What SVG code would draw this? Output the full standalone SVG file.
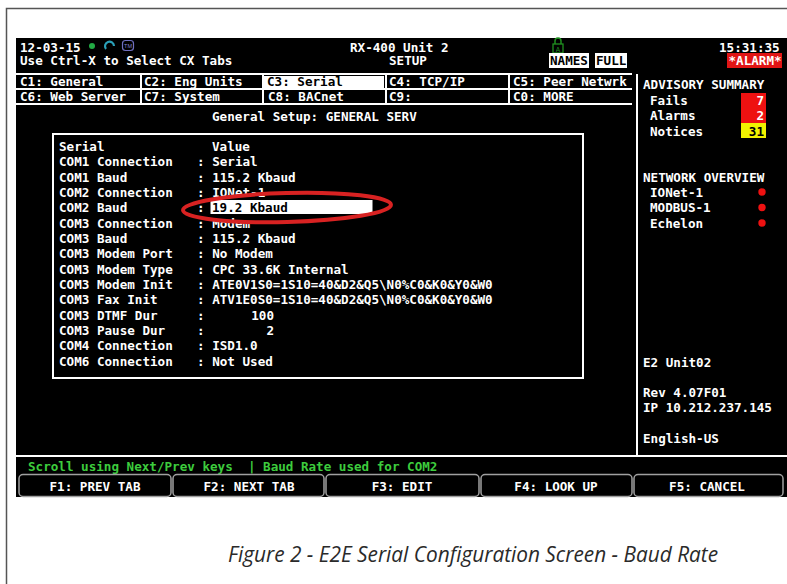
<svg xmlns="http://www.w3.org/2000/svg" width="787" height="584" viewBox="0 0 787 584">
<style>
.m{font-family:"DejaVu Sans Mono","Liberation Mono",monospace;font-weight:bold;font-size:12.6px;fill:#ffffff;white-space:pre}
.k{fill:#000000}
.g{fill:#3dcc3d}
.ln{stroke:#ffffff;stroke-width:2;fill:none}
.btn{stroke:#a0a0a0;stroke-width:1.5;fill:none}
.cap{font-family:"Open Sans","Noto Sans","Liberation Sans",sans-serif;font-style:italic;font-size:22px;fill:#2a2a2a}
</style>
<rect x="0" y="0" width="787" height="584" fill="#ffffff"/>
<rect x="6.5" y="8.5" width="792" height="590" fill="none" stroke="#555555" stroke-width="1.5"/>
<g id="screen">
<rect x="16" y="38" width="771" height="459" fill="#000000"/>
</g>
<g id="header">
<text class="m" x="20" y="51.5">12-03-15</text>
<circle cx="92" cy="46" r="3" fill="#22aa44"/>
<path d="M106,49 A4.5,4.5 0 1 1 114,46" stroke="#2aa0b8" stroke-width="2.2" fill="none"/>
<rect x="122.5" y="40.5" width="11" height="10" rx="3" fill="none" stroke="#7070c0" stroke-width="1.2"/>
<text x="128" y="48" font-family="Liberation Sans,sans-serif" font-size="5.5" fill="#8080d0" text-anchor="middle">TM</text>
<text class="m" x="350" y="51.5">RX-400 Unit 2</text>
<text class="m" x="20" y="65">Use Ctrl-X to Select CX Tabs</text>
<text class="m" x="389" y="65">SETUP</text>
<path d="M555,44 V41 A3,3 0 0 1 561,41 V44" stroke="#1f8f1f" stroke-width="1.5" fill="none"/>
<rect x="553" y="44" width="10" height="9" fill="none" stroke="#1f8f1f" stroke-width="1.3"/>
<text x="558" y="51.5" font-family="Liberation Sans,sans-serif" font-size="6.5" fill="#1f8f1f" text-anchor="middle">A</text>
<rect x="549" y="53" width="40" height="15" fill="#ffffff"/>
<text class="m k" x="550" y="65">NAMES</text>
<rect x="595" y="53" width="32" height="15" fill="#ffffff"/>
<text class="m k" x="596" y="65">FULL</text>
<text class="m" x="719" y="51.5">15:31:35</text>
<rect x="727" y="53" width="55" height="15" fill="#e01515"/>
<text class="m" x="728.5" y="65">*ALARM*</text>
</g>
<g id="tabs">
<path class="ln" d="M16,74 H632 M16,89 H632 M16,104 H632 M141,74 V104 M263,74 V104 M386,74 V104 M509,74 V104"/>
<rect x="264" y="76" width="120" height="12" fill="#ffffff"/>
<text class="m" x="20" y="86">C1: General</text>
<text class="m" x="144" y="86">C2: Eng Units</text>
<text class="m k" x="267" y="86">C3: Serial</text>
<text class="m" x="389" y="86">C4: TCP/IP</text>
<text class="m" x="513" y="86">C5: Peer Netwrk</text>
<text class="m" x="20" y="100.5">C6: Web Server</text>
<text class="m" x="144" y="100.5">C7: System</text>
<text class="m" x="268" y="100.5">C8: BACnet</text>
<text class="m" x="389" y="100.5">C9:</text>
<text class="m" x="513" y="100.5">C0: MORE</text>
</g>
<g id="panel-lines">
<path class="ln" d="M637,74 V456 M16,456 H787"/>
</g>
<g id="title">
<text class="m" x="212" y="120.5">General Setup: GENERAL SERV</text>
</g>
<g id="dialog">
<rect x="53" y="134" width="530" height="244" class="ln"/>
<rect x="210.5" y="200" width="162" height="14" fill="#ffffff"/>
<text class="m" x="59" y="150.5">Serial</text>
<text class="m" x="212" y="150.5">Value</text>
<text class="m" x="59" y="166">COM1 Connection</text><text class="m" x="197" y="166">: Serial</text>
<text class="m" x="59" y="181.5">COM1 Baud</text><text class="m" x="197" y="181.5">: 115.2 Kbaud</text>
<text class="m" x="59" y="196.5">COM2 Connection</text><text class="m" x="197" y="196.5">: IONet-1</text>
<text class="m" x="59" y="212">COM2 Baud</text><text class="m" x="197" y="212">:</text><text class="m k" x="212" y="212">19.2 Kbaud</text>
<text class="m" x="59" y="227.5">COM3 Connection</text><text class="m" x="197" y="227.5">: Modem</text>
<text class="m" x="59" y="242.5">COM3 Baud</text><text class="m" x="197" y="242.5">: 115.2 Kbaud</text>
<text class="m" x="59" y="258">COM3 Modem Port</text><text class="m" x="197" y="258">: No Modem</text>
<text class="m" x="59" y="273.5">COM3 Modem Type</text><text class="m" x="197" y="273.5">: CPC 33.6K Internal</text>
<text class="m" x="59" y="288.5">COM3 Modem Init</text><text class="m" x="197" y="288.5">: ATE0V1S0=1S10=40&amp;D2&amp;Q5\N0%C0&amp;K0&amp;Y0&amp;W0</text>
<text class="m" x="59" y="303.5">COM3 Fax Init</text><text class="m" x="197" y="303.5">: ATV1E0S0=1S10=40&amp;D2&amp;Q5\N0%C0&amp;K0&amp;Y0&amp;W0</text>
<text class="m" x="59" y="319.5">COM3 DTMF Dur</text><text class="m" x="197" y="319.5">:</text><text class="m" x="274" y="319.5" text-anchor="end">100</text>
<text class="m" x="59" y="334.5">COM3 Pause Dur</text><text class="m" x="197" y="334.5">:</text><text class="m" x="274" y="334.5" text-anchor="end">2</text>
<text class="m" x="59" y="350">COM4 Connection</text><text class="m" x="197" y="350">: ISD1.0</text>
<text class="m" x="59" y="365.5">COM6 Connection</text><text class="m" x="197" y="365.5">: Not Used</text>
<ellipse cx="287" cy="207.5" rx="104" ry="14.5" fill="none" stroke="#d82222" stroke-width="4" transform="rotate(-1.5 287 207.5)"/>
</g>
<g id="advisory">
<text class="m" x="643" y="89">ADVISORY SUMMARY</text>
<rect x="741" y="93" width="25" height="30" fill="#ee1111"/>
<rect x="741" y="123" width="25" height="15" fill="#f2f200"/>
<text class="m" x="650" y="104.5">Fails</text><text class="m" x="764" y="104.5" text-anchor="end">7</text>
<text class="m" x="650" y="120">Alarms</text><text class="m" x="764" y="120" text-anchor="end">2</text>
<text class="m" x="650" y="135.5">Notices</text><text class="m k" x="764" y="135.5" text-anchor="end">31</text>
</g>
<g id="network">
<text class="m" x="643" y="181.5">NETWORK OVERVIEW</text>
<text class="m" x="650" y="196.5">IONet-1</text><circle cx="762" cy="192" r="3.7" fill="#ee1111"/>
<text class="m" x="650" y="212">MODBUS-1</text><circle cx="762" cy="207.5" r="3.7" fill="#ee1111"/>
<text class="m" x="650" y="227.5">Echelon</text><circle cx="762" cy="223" r="3.7" fill="#ee1111"/>
</g>
<g id="unitinfo">
<text class="m" x="643" y="366.5">E2 Unit02</text>
<text class="m" x="643" y="396.5">Rev 4.07F01</text>
<text class="m" x="643" y="411.5">IP 10.212.237.145</text>
<text class="m" x="643" y="442.5">English-US</text>
</g>
<g id="status">
<text class="m g" x="28" y="471">Scroll using Next/Prev keys  | Baud Rate used for COM2</text>
</g>
<g id="fkeys">
<rect class="btn" x="19" y="474.5" width="152" height="22" rx="4"/>
<rect class="btn" x="173" y="474.5" width="151" height="22" rx="4"/>
<rect class="btn" x="326" y="474.5" width="153" height="22" rx="4"/>
<rect class="btn" x="481" y="474.5" width="151" height="22" rx="4"/>
<rect class="btn" x="634" y="474.5" width="149" height="22" rx="4"/>
<text class="m" x="95" y="491" text-anchor="middle">F1: PREV TAB</text>
<text class="m" x="249" y="491" text-anchor="middle">F2: NEXT TAB</text>
<text class="m" x="402" y="491" text-anchor="middle">F3: EDIT</text>
<text class="m" x="556" y="491" text-anchor="middle">F4: LOOK UP</text>
<text class="m" x="707" y="491" text-anchor="middle">F5: CANCEL</text>
</g>
<g id="caption">
<text class="cap" x="228" y="562" textLength="490" lengthAdjust="spacingAndGlyphs">Figure 2  - E2E Serial Configuration Screen - Baud Rate</text>
</g>
</svg>
